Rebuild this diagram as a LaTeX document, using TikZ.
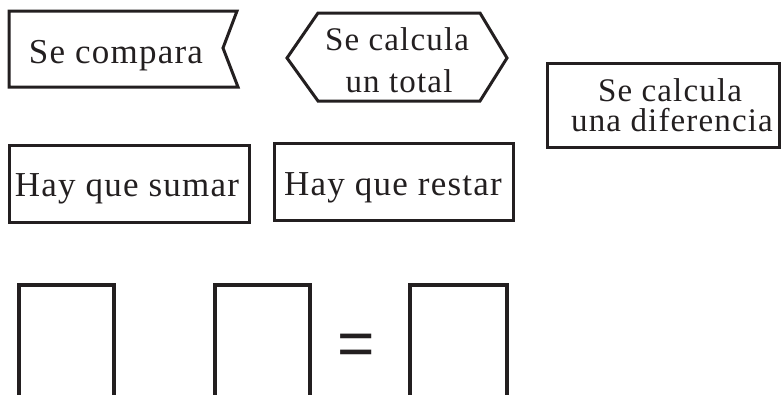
\documentclass[tikz,border=0pt]{standalone}
\usepackage{fontspec}
\setmainfont{Liberation Serif}[LetterSpace=3.5]
\newfontfamily\eqfont{Liberation Sans}
\definecolor{ink}{RGB}{35,31,32}
\tikzset{
  frame/.style={draw=ink, line width=3pt, line join=miter},
  sqframe/.style={draw=ink, line width=4pt},
  bigtxt/.style={text=ink, inner sep=0pt, anchor=base, font=\fontsize{35}{42}\selectfont},
  smalltxt/.style={text=ink, inner sep=0pt, anchor=base, font=\fontsize{33}{40}\selectfont},
}
\begin{document}
\begin{tikzpicture}[x=1pt, y=-1pt]
\useasboundingbox (0,0) rectangle (781,394);
\clip (0,0) rectangle (781,394);
% Se compara (flag shape)
\draw[frame] (9,11) -- (237,11) -- (223,48) -- (238,87) -- (9,87) -- cycle;
\node[bigtxt] (compara) at (116,63) {Se compara};
% hexagon
\draw[frame] (318,13) -- (480,13) -- (507,58) -- (480,101) -- (318,101) -- (287,58) -- cycle;
\node[smalltxt] (total1) at (397,50) {Se calcula};
\node[smalltxt] (total2) at (399,92) {un total};
% diferencia box
\draw[frame] (547,63) rectangle (779.5,147);
\node[smalltxt] (dif1) at (670,101) {Se calcula};
\node[smalltxt] (dif2) at (672,131) {una diferencia};
% second row
\draw[frame] (9,145) rectangle (249,222);
\node[bigtxt] (sumar) at (127,196) {Hay que sumar};
\draw[frame] (274,143) rectangle (513,220);
\node[bigtxt] (restar) at (393,195) {Hay que restar};
% answer boxes
\draw[sqframe] (18.7,400) -- (18.7,285.3) -- (114,285.3) -- (114,400);
\draw[sqframe] (214.7,400) -- (214.7,285.3) -- (310.3,285.3) -- (310.3,400);
\draw[sqframe] (410.3,400) -- (410.3,285.3) -- (507,285.3) -- (507,400);
\node[text=ink, inner sep=0pt, anchor=base, font=\eqfont\fontsize{64}{70}\selectfont] (eq) at (356.5,365.5) {=};
\end{tikzpicture}
\end{document}
